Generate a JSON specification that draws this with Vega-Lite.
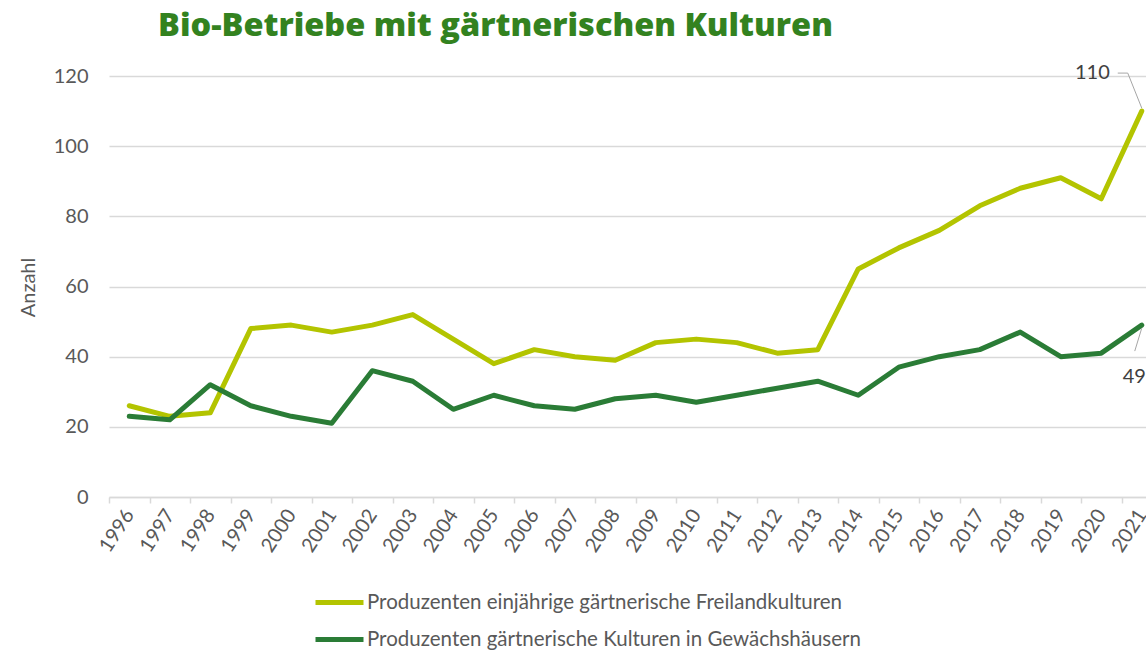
{
  "$schema": "https://vega.github.io/schema/vega-lite/v6.json",
  "autosize": "none",
  "width": 1037,
  "height": 421,
  "padding": {"left": 109, "top": 76, "right": 0, "bottom": 157},
  "background": "white",
  "config": {
    "font": "Lato",
    "view": {"stroke": null}
  },
  "title": {
    "text": "Bio-Betriebe mit gärtnerischen Kulturen",
    "anchor": "start",
    "frame": "group",
    "dx": 49,
    "offset": 21,
    "font": "Open Sans",
    "fontSize": 32.5,
    "fontWeight": 800,
    "color": "#33821f"
  },
  "datasets": {
    "main": [
      {"year": "1996", "series": "Produzenten einjährige gärtnerische Freilandkulturen", "value": 26},
      {"year": "1997", "series": "Produzenten einjährige gärtnerische Freilandkulturen", "value": 23},
      {"year": "1998", "series": "Produzenten einjährige gärtnerische Freilandkulturen", "value": 24},
      {"year": "1999", "series": "Produzenten einjährige gärtnerische Freilandkulturen", "value": 48},
      {"year": "2000", "series": "Produzenten einjährige gärtnerische Freilandkulturen", "value": 49},
      {"year": "2001", "series": "Produzenten einjährige gärtnerische Freilandkulturen", "value": 47},
      {"year": "2002", "series": "Produzenten einjährige gärtnerische Freilandkulturen", "value": 49},
      {"year": "2003", "series": "Produzenten einjährige gärtnerische Freilandkulturen", "value": 52},
      {"year": "2004", "series": "Produzenten einjährige gärtnerische Freilandkulturen", "value": 45},
      {"year": "2005", "series": "Produzenten einjährige gärtnerische Freilandkulturen", "value": 38},
      {"year": "2006", "series": "Produzenten einjährige gärtnerische Freilandkulturen", "value": 42},
      {"year": "2007", "series": "Produzenten einjährige gärtnerische Freilandkulturen", "value": 40},
      {"year": "2008", "series": "Produzenten einjährige gärtnerische Freilandkulturen", "value": 39},
      {"year": "2009", "series": "Produzenten einjährige gärtnerische Freilandkulturen", "value": 44},
      {"year": "2010", "series": "Produzenten einjährige gärtnerische Freilandkulturen", "value": 45},
      {"year": "2011", "series": "Produzenten einjährige gärtnerische Freilandkulturen", "value": 44},
      {"year": "2012", "series": "Produzenten einjährige gärtnerische Freilandkulturen", "value": 41},
      {"year": "2013", "series": "Produzenten einjährige gärtnerische Freilandkulturen", "value": 42},
      {"year": "2014", "series": "Produzenten einjährige gärtnerische Freilandkulturen", "value": 65},
      {"year": "2015", "series": "Produzenten einjährige gärtnerische Freilandkulturen", "value": 71},
      {"year": "2016", "series": "Produzenten einjährige gärtnerische Freilandkulturen", "value": 76},
      {"year": "2017", "series": "Produzenten einjährige gärtnerische Freilandkulturen", "value": 83},
      {"year": "2018", "series": "Produzenten einjährige gärtnerische Freilandkulturen", "value": 88},
      {"year": "2019", "series": "Produzenten einjährige gärtnerische Freilandkulturen", "value": 91},
      {"year": "2020", "series": "Produzenten einjährige gärtnerische Freilandkulturen", "value": 85},
      {"year": "2021", "series": "Produzenten einjährige gärtnerische Freilandkulturen", "value": 110},
      {"year": "1996", "series": "Produzenten gärtnerische Kulturen in Gewächshäusern", "value": 23},
      {"year": "1997", "series": "Produzenten gärtnerische Kulturen in Gewächshäusern", "value": 22},
      {"year": "1998", "series": "Produzenten gärtnerische Kulturen in Gewächshäusern", "value": 32},
      {"year": "1999", "series": "Produzenten gärtnerische Kulturen in Gewächshäusern", "value": 26},
      {"year": "2000", "series": "Produzenten gärtnerische Kulturen in Gewächshäusern", "value": 23},
      {"year": "2001", "series": "Produzenten gärtnerische Kulturen in Gewächshäusern", "value": 21},
      {"year": "2002", "series": "Produzenten gärtnerische Kulturen in Gewächshäusern", "value": 36},
      {"year": "2003", "series": "Produzenten gärtnerische Kulturen in Gewächshäusern", "value": 33},
      {"year": "2004", "series": "Produzenten gärtnerische Kulturen in Gewächshäusern", "value": 25},
      {"year": "2005", "series": "Produzenten gärtnerische Kulturen in Gewächshäusern", "value": 29},
      {"year": "2006", "series": "Produzenten gärtnerische Kulturen in Gewächshäusern", "value": 26},
      {"year": "2007", "series": "Produzenten gärtnerische Kulturen in Gewächshäusern", "value": 25},
      {"year": "2008", "series": "Produzenten gärtnerische Kulturen in Gewächshäusern", "value": 28},
      {"year": "2009", "series": "Produzenten gärtnerische Kulturen in Gewächshäusern", "value": 29},
      {"year": "2010", "series": "Produzenten gärtnerische Kulturen in Gewächshäusern", "value": 27},
      {"year": "2011", "series": "Produzenten gärtnerische Kulturen in Gewächshäusern", "value": 29},
      {"year": "2012", "series": "Produzenten gärtnerische Kulturen in Gewächshäusern", "value": 31},
      {"year": "2013", "series": "Produzenten gärtnerische Kulturen in Gewächshäusern", "value": 33},
      {"year": "2014", "series": "Produzenten gärtnerische Kulturen in Gewächshäusern", "value": 29},
      {"year": "2015", "series": "Produzenten gärtnerische Kulturen in Gewächshäusern", "value": 37},
      {"year": "2016", "series": "Produzenten gärtnerische Kulturen in Gewächshäusern", "value": 40},
      {"year": "2017", "series": "Produzenten gärtnerische Kulturen in Gewächshäusern", "value": 42},
      {"year": "2018", "series": "Produzenten gärtnerische Kulturen in Gewächshäusern", "value": 47},
      {"year": "2019", "series": "Produzenten gärtnerische Kulturen in Gewächshäusern", "value": 40},
      {"year": "2020", "series": "Produzenten gärtnerische Kulturen in Gewächshäusern", "value": 41},
      {"year": "2021", "series": "Produzenten gärtnerische Kulturen in Gewächshäusern", "value": 49}
    ],
    "notes": [
      {"year": "2021", "value": 110, "label": "110", "pos": "above"},
      {"year": "2021", "value": 49, "label": "49", "pos": "below"}
    ]
  },
  "layer": [
    {
      "data": {"name": "main"},
      "mark": {"type": "line", "strokeWidth": 5, "strokeCap": "round", "strokeJoin": "round"},
      "encoding": {
        "x": {
          "field": "year",
          "type": "ordinal",
          "scale": {"type": "band", "range": [0, 1053], "paddingInner": 0, "paddingOuter": 0},
          "axis": {
            "title": null,
            "tickBand": "extent",
            "domainColor": "#d9d9d9",
            "domainWidth": 1.5,
            "tickColor": "#d9d9d9",
            "tickWidth": 1.5,
            "tickSize": 6,
            "labelAngle": -57,
            "labelAlign": "right",
            "labelBaseline": "middle",
            "labelPadding": 8,
            "labelFontSize": 20,
            "labelColor": "#595959",
            "grid": false
          }
        },
        "y": {
          "field": "value",
          "type": "quantitative",
          "scale": {"domain": [0, 120], "nice": false},
          "axis": {
            "title": "Anzahl",
            "titleFontSize": 20,
            "titleFontWeight": "normal",
            "titleColor": "#595959",
            "titleX": -81,
            "titleY": 211,
            "titleAlign": "center",
            "titleBaseline": "middle",
            "values": [0, 20, 40, 60, 80, 100, 120],
            "domain": false,
            "ticks": false,
            "labelPadding": 21,
            "labelFontSize": 20,
            "labelColor": "#595959",
            "gridColor": "#d9d9d9",
            "gridWidth": 1.5
          }
        },
        "color": {
          "field": "series",
          "type": "nominal",
          "scale": {
            "domain": ["Produzenten einjährige gärtnerische Freilandkulturen", "Produzenten gärtnerische Kulturen in Gewächshäusern"],
            "range": ["#b3c400", "#2a7c36"]
          },
          "legend": {
            "title": null,
            "orient": "none",
            "legendX": 204,
            "legendY": 500,
            "direction": "vertical",
            "symbolType": "stroke",
            "symbolSize": 2304,
            "symbolStrokeWidth": 5,
            "labelFontSize": 20.5,
            "labelColor": "#595959",
            "labelLimit": 800,
            "labelOffset": 1,
            "rowPadding": 0
          }
        }
      }
    },
    {
      "data": {"name": "notes"},
      "transform": [{"filter": "datum.pos == 'above'"}],
      "mark": {"type": "rule", "stroke": "#a6a6a6", "strokeWidth": 1, "x2Offset": -14, "y2Offset": -38, "yOffset": -3},
      "encoding": {
        "x": {"field": "year", "type": "ordinal"},
        "x2": {"field": "year"},
        "y": {"field": "value", "type": "quantitative"},
        "y2": {"field": "value"}
      }
    },
    {
      "data": {"name": "notes"},
      "transform": [{"filter": "datum.pos == 'above'"}],
      "mark": {"type": "rule", "stroke": "#a6a6a6", "strokeWidth": 1, "xOffset": -14, "yOffset": -38, "x2Offset": -24, "y2Offset": -38},
      "encoding": {
        "x": {"field": "year", "type": "ordinal"},
        "x2": {"field": "year"},
        "y": {"field": "value", "type": "quantitative"},
        "y2": {"field": "value"}
      }
    },
    {
      "data": {"name": "notes"},
      "transform": [{"filter": "datum.pos == 'below'"}],
      "mark": {"type": "rule", "stroke": "#a6a6a6", "strokeWidth": 1, "yOffset": 3, "x2Offset": -7, "y2Offset": 26},
      "encoding": {
        "x": {"field": "year", "type": "ordinal"},
        "x2": {"field": "year"},
        "y": {"field": "value", "type": "quantitative"},
        "y2": {"field": "value"}
      }
    },
    {
      "data": {"name": "notes"},
      "transform": [{"filter": "datum.pos == 'above'"}],
      "mark": {"type": "text", "fontSize": 20, "color": "#404040", "baseline": "middle", "align": "right", "dx": -32, "dy": -38},
      "encoding": {
        "x": {"field": "year", "type": "ordinal"},
        "y": {"field": "value", "type": "quantitative"},
        "text": {"field": "label"}
      }
    },
    {
      "data": {"name": "notes"},
      "transform": [{"filter": "datum.pos == 'below'"}],
      "mark": {"type": "text", "fontSize": 20, "color": "#404040", "baseline": "middle", "align": "left", "dx": -19, "dy": 52},
      "encoding": {
        "x": {"field": "year", "type": "ordinal"},
        "y": {"field": "value", "type": "quantitative"},
        "text": {"field": "label"}
      }
    }
  ]
}
